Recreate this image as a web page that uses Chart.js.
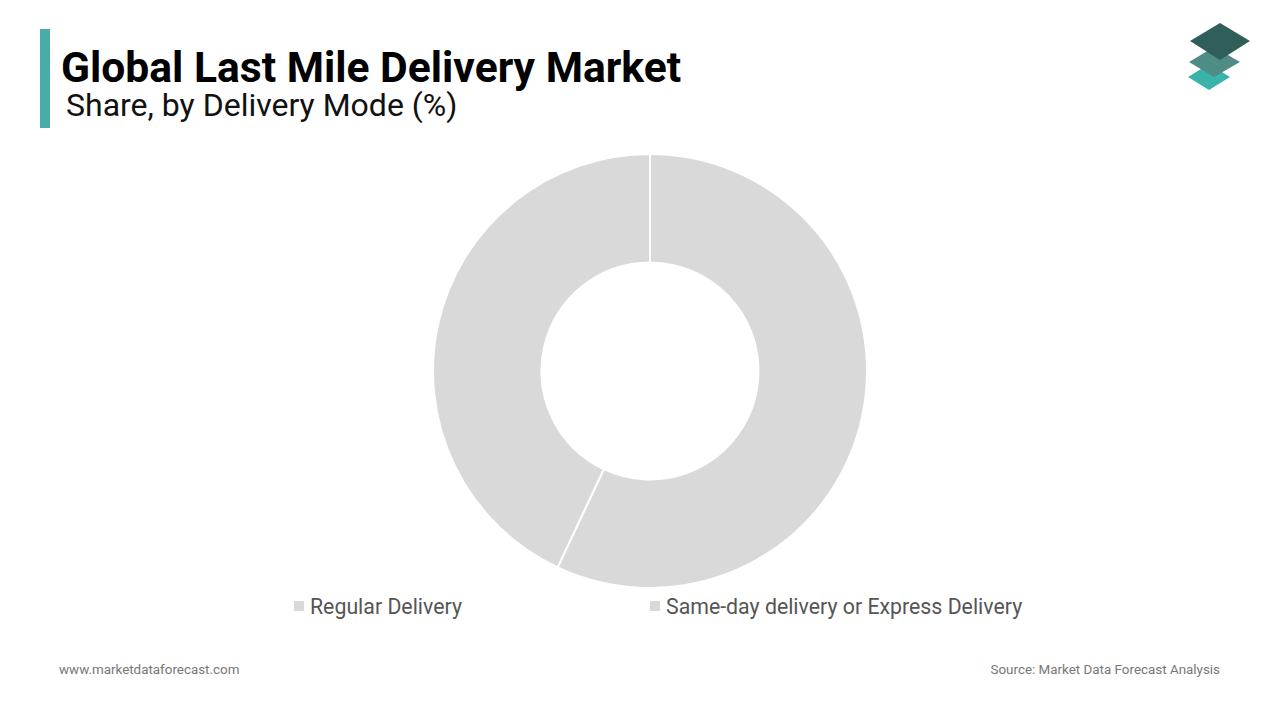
<!DOCTYPE html>
<html>
<head>
<meta charset="utf-8">
<script src="https://cdn.jsdelivr.net/npm/chart.js@4"></script>
<style>
  body { margin: 0; width: 1280px; height: 720px; background: #fff; font-family: Roboto, "Noto Sans", sans-serif; position: relative; overflow: hidden; }
  .bar { position: absolute; left: 40px; top: 29px; width: 10px; height: 99px; background: #4aabab; }
  .title { position: absolute; left: 61px; top: 42px; font-size: 42.6px; font-weight: bold; color: #000; }
  .subtitle { position: absolute; left: 66px; top: 86px; font-size: 32px; color: #111; }
  .logo { position: absolute; left: 1180px; top: 18px; }
  #wrap { position: absolute; left: 432px; top: 153px; width: 436px; height: 436px; }
  #legend { position: absolute; top: 594px; left: 0; width: 1280px; font-size: 21.3px; color: #555; }
  #legend span.item { position: absolute; white-space: nowrap; }
  #legend i { display: inline-block; width: 10px; height: 10px; margin-right: 6px; vertical-align: 3px; }
  .foot { position: absolute; top: 662px; font-size: 13.4px; color: #777; }
</style>
</head>
<body>
<div class="bar"></div>
<div class="title">Global Last Mile Delivery Market</div>
<div class="subtitle">Share, by Delivery Mode (%)</div>
<svg class="logo" width="80" height="80" viewBox="1180 18 80 80">
  <polygon points="1188,77 1209,64 1230,77 1209,90" fill="#3ab3ab"/>
  <polygon points="1189,62 1214,47 1240,62 1214,77" fill="#4f8c85"/>
  <polygon points="1190,41 1220,23 1250,41 1220,60" fill="#2f5f58"/>
</svg>
<div id="wrap"><canvas id="chart" width="436" height="436"></canvas></div>
<div id="legend"></div>
<div class="foot" style="left:59px">www.marketdataforecast.com</div>
<div class="foot" style="right:60px">Source: Market Data Forecast Analysis</div>
<script>
// Données du graphique
const modes = ["Regular Delivery", "Same-day delivery or Express Delivery"];
const shares = [57, 43];
const sliceColors = ["#d9d9d9", "#d9d9d9"];
const legendX = [294, 650];

const ctx = document.getElementById("chart").getContext("2d");
new Chart(ctx, {
    type: "doughnut",
    data: {
        labels: modes,
        datasets: [{
            data: shares,
            backgroundColor: sliceColors,
            borderColor: "#ffffff",
            borderWidth: 2
        }]
    },
    options: {
        responsive: false,
        animation: false,
        cutout: "50%",
        plugins: {
            legend: { display: false },
            tooltip: { enabled: false }
        }
    }
});

// Légende en HTML
const legend = document.getElementById("legend");
modes.forEach((m, i) => {
    const s = document.createElement("span");
    s.className = "item";
    s.style.left = legendX[i] + "px";
    s.innerHTML = `<i style="background:${sliceColors[i]}"></i>${m}`;
    legend.appendChild(s);
});
</script>
</body>
</html>
